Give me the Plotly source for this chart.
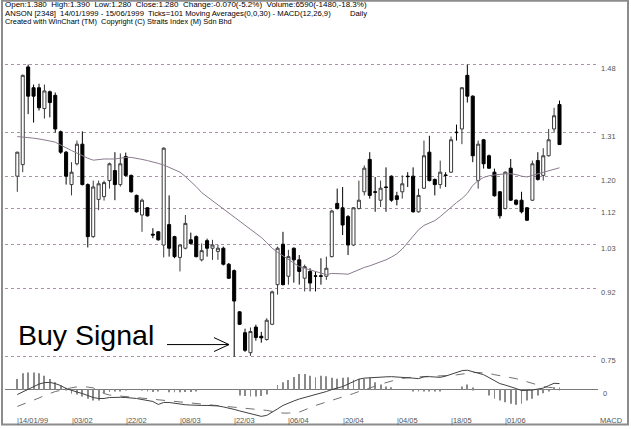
import plotly.graph_objects as go

# ---------------- data ----------------
idx = list(range(101))
opens = [1.201,1.230,1.474,1.422,1.422,1.370,1.412,1.403,1.312,1.261,
         1.180,1.232,1.281,1.180,1.050,1.143,1.150,1.190,1.215,1.180,
         1.250,1.203,1.153,1.104,1.122,1.056,1.062,1.029,1.080,1.050,
         0.998,1.021,1.042,1.050,0.992,1.040,1.021,1.013,1.021,0.981,
         0.965,0.862,0.810,0.760,0.824,0.801,0.793,0.831,0.930,1.031,
         0.951,1.021,0.992,0.946,0.963,0.952,0.952,0.951,1.000,1.133,
         1.122,1.100,1.029,1.120,1.162,1.243,1.162,1.141,1.174,1.201,
         1.152,1.162,1.201,1.201,1.112,1.171,1.261,1.193,1.180,1.204,
         1.211,1.311,1.319,1.453,1.401,1.190,1.292,1.252,1.211,1.162,
         1.120,1.221,1.141,1.141,1.122,1.141,1.240,1.203,1.252,1.319,
         1.380]
highs = [1.262,1.455,1.480,1.430,1.432,1.430,1.415,1.410,1.315,1.264,
         1.236,1.290,1.313,1.183,1.190,1.190,1.190,1.235,1.261,1.258,
         1.260,1.205,1.155,1.145,1.124,1.071,1.064,1.273,1.153,1.052,
         1.030,1.104,1.060,1.053,1.033,1.045,1.042,1.030,1.025,0.984,
         0.968,0.864,0.820,0.823,0.830,0.812,0.846,0.915,1.025,1.062,
         1.017,1.023,1.004,0.980,0.971,0.963,0.996,1.000,1.117,1.170,
         1.174,1.104,1.124,1.190,1.228,1.261,1.199,1.190,1.223,1.203,
         1.162,1.203,1.211,1.223,1.170,1.290,1.302,1.195,1.240,1.211,
         1.300,1.330,1.424,1.480,1.403,1.290,1.294,1.255,1.220,1.164,
         1.213,1.244,1.143,1.162,1.124,1.240,1.261,1.271,1.319,1.372,
         1.390]
lows = [1.162,1.211,1.356,1.335,1.365,1.345,1.348,1.310,1.257,1.180,
        1.153,1.228,1.178,1.023,1.047,1.116,1.140,1.170,1.141,1.175,
        1.200,1.160,1.110,1.062,1.100,1.046,1.040,0.998,1.000,0.996,
        0.963,1.018,1.030,0.998,0.988,1.000,0.992,0.992,0.978,0.944,
        0.750,0.829,0.762,0.752,0.790,0.785,0.790,0.829,0.905,0.928,
        0.930,0.935,0.930,0.913,0.913,0.913,0.930,0.942,0.998,1.118,
        1.054,1.004,1.027,1.118,1.153,1.145,1.112,1.124,1.112,1.137,
        1.128,1.145,1.174,1.110,1.110,1.169,1.188,1.153,1.170,1.174,
        1.209,1.290,1.281,1.385,1.236,1.170,1.220,1.219,1.150,1.095,
        1.118,1.139,1.128,1.108,1.089,1.139,1.190,1.190,1.250,1.310,
        1.280]
closes = [1.261,1.453,1.401,1.401,1.372,1.414,1.385,1.319,1.261,1.201,
          1.211,1.281,1.180,1.050,1.174,1.182,1.185,1.232,1.180,1.232,
          1.203,1.162,1.112,1.141,1.102,1.054,1.042,1.271,1.021,1.000,
          1.029,1.083,1.033,1.000,1.015,1.021,1.029,1.021,0.981,0.946,
          0.889,0.831,0.766,0.813,0.798,0.797,0.841,0.912,1.021,0.930,
          1.000,0.992,0.963,0.975,0.934,0.951,0.951,0.971,1.114,1.120,
          1.079,1.029,1.122,1.141,1.221,1.153,1.161,1.171,1.173,1.141,
          1.143,1.182,1.200,1.112,1.153,1.252,1.190,1.180,1.211,1.203,
          1.292,1.310,1.422,1.401,1.252,1.281,1.232,1.221,1.152,1.102,
          1.211,1.141,1.131,1.112,1.091,1.232,1.193,1.252,1.292,1.352,
          1.280]
ma30 = [1.300,1.299,1.298,1.296,1.294,1.292,1.289,1.286,1.280,1.272,
        1.265,1.258,1.252,1.246,1.241,1.243,1.244,1.244,1.244,1.246,
        1.248,1.248,1.246,1.243,1.240,1.237,1.233,1.229,1.223,1.217,
        1.211,1.200,1.188,1.175,1.160,1.150,1.139,1.128,1.119,1.110,
        1.100,1.090,1.079,1.069,1.058,1.048,1.035,1.021,1.011,1.002,
        0.993,0.983,0.975,0.971,0.967,0.963,0.959,0.955,0.958,0.958,
        0.957,0.956,0.962,0.967,0.973,0.977,0.982,0.986,0.992,0.999,
        1.007,1.019,1.035,1.051,1.067,1.078,1.084,1.090,1.100,1.112,
        1.124,1.135,1.145,1.158,1.178,1.190,1.198,1.202,1.204,1.206,
        1.207,1.207,1.205,1.201,1.199,1.203,1.207,1.210,1.214,1.219,
        1.222]
# MACD panel values (x 0.001)
macd_line = [-5,-2.5,0.5,3,5.5,7,7.2,6,4,1,
             -1,-2.5,-4,-6,-8,-9,-9,-8,-7.7,-7.8,
             -8,-8.3,-9,-10,-11,-12,-15,-13,-13,-14,
             -15,-15.3,-15.6,-16,-16,-16,-16,-16.5,-17.5,-18.5,
             -20,-21.5,-23,-24.5,-26,-27,-26,-23,-19.5,-16,
             -13.5,-11.5,-9.5,-8,-6.5,-5.5,-4,-2,0,1.5,
             3,5.5,8,10.5,11.5,12,12.3,12.5,12.8,13,
             12.8,12.5,12.3,11.5,11,12.8,13,12.5,12.3,13.5,
             15.5,17,19,19.5,18,16.5,15,12,9,6,
             4.5,3,1,-1,-1,-0.5,0.5,1.5,4,6.3,
             6]
signal_line = [-17,-15,-13,-11,-8.5,-6,-3.7,-2,-0.8,0.7,
               1.8,2.7,3,2.5,1.7,-1,-4,-5.5,-6,-6.3,
               -6.6,-7,-7.5,-8.2,-9,-9.7,-10.3,-10.8,-11.5,-12,
               -12.6,-13.2,-13.7,-14.1,-14.5,-15,-15.5,-16,-16.4,-16.8,
               -17.3,-18,-18.7,-19.3,-20,-20.5,-21,-22,-23,-23.7,
               -23.7,-23.3,-22.7,-20.5,-18,-16,-14.3,-12.7,-11,-9.4,
               -7.7,-6,-4,-2,0,2,3.5,5.2,7,8.7,
               10,11.2,12.2,12.6,12.8,13,13.1,13.2,13.3,13.8,
               14.3,14.8,15.6,16.4,17.1,17.2,16.8,16.2,15,14,
               13.3,12.5,11,9.5,7.8,6,4.3,3,2.2,1.7,
               1.5]
histogram = [10.7,16.3,17.3,17.3,16.3,14,10.7,7.3,4,1.7,
             -4.3,-5,-7,-9.3,-11,-11,-3.5,-2.5,-2,-1,
             -0.5,0,0,-0.5,-1,-2.5,-1,0,-2.7,-2.7,
             -2.7,-2.5,-2.5,-1,0,0,0,0,0,0,
             0,-6,-6.5,-7,-7,-6.5,-5,0,4.7,7.3,
             9.7,12.7,15.7,15.7,14,12.3,14,13.3,12,11,
             12,12.5,10,10.7,11,12,7.3,5,3,2.3,
             0,0,0,-2,-2,-1.5,-2,-2,-1.5,0,
             0,0,3,5,2,0,0,-6,-9.3,-11,
             -12.7,-14.3,-15.3,-14.3,-11,-9.3,-6,-3.7,-1,2.3,
             2]
date_ticks = [0,10,20,30,40,50,60,70,80,90]
date_labels = ["|14/01/99","|03/02","|22/02","|08/03","|22/03",
               "|06/04","|20/04","|04/05","|18/05","|01/06"]
price_ticks = [1.48,1.31,1.20,1.12,1.03,0.92,0.75]
price_labels = ["1.48","1.31","1.20","1.12","1.03","0.92","0.75"]

header = [
    "Open:1.380\u00a0 High:1.390\u00a0 Low:1.280\u00a0 Close:1.280\u00a0 Change:-0.070(-5.2%)\u00a0 Volume:6590(-1480,-18.3%)",
    "ANSON [2348]\u00a0 14/01/1999 - 15/06/1999\u00a0 Ticks=101 Moving Averages(0,0,30) - MACD(12,26,9)\u00a0\u00a0\u00a0\u00a0\u00a0\u00a0\u00a0\u00a0 Daily",
    "Created with WinChart (TM)\u00a0 Copyright (C) Straits Index (M) Sdn Bhd",
]
header_sizes = [8, 7.7, 7.4]

# ---------------- figure ----------------
W, H = 631, 429
ML, MR = 5, 33
PW = W - ML - MR
def px(x):
    return (x - ML) / PW
def py(y):
    return 1 - y / H

fig = go.Figure()
fig.add_trace(go.Candlestick(
    x=idx, open=opens, high=highs, low=lows, close=closes,
    increasing=dict(fillcolor="white", line=dict(color="#3a3a3a", width=1)),
    decreasing=dict(fillcolor="black", line=dict(color="black", width=1)),
    whiskerwidth=0, xaxis="x", yaxis="y", showlegend=False, hoverinfo="skip"))
fig.add_trace(go.Scatter(x=idx, y=ma30, mode="lines",
                         line=dict(color="#8a7a8e", width=1),
                         xaxis="x", yaxis="y", showlegend=False))
fig.add_trace(go.Bar(x=idx, y=histogram, width=0.16,
                     marker=dict(color="#8a8a8a", line=dict(width=0)),
                     xaxis="x", yaxis="y2", showlegend=False))
fig.add_trace(go.Scatter(x=idx, y=signal_line, mode="lines",
                         line=dict(color="#707070", width=1, dash="dash"),
                         xaxis="x", yaxis="y2", showlegend=False))
fig.add_trace(go.Scatter(x=idx, y=macd_line, mode="lines",
                         line=dict(color="#404040", width=1),
                         xaxis="x", yaxis="y2", showlegend=False))

tick_font = dict(family="Liberation Sans, Arial, sans-serif", size=7.5, color="#555555")

fig.update_layout(
    width=W, height=H,
    margin=dict(l=ML, r=MR, t=0, b=0),
    paper_bgcolor="white", plot_bgcolor="white",
    boxgap=0.2,
    xaxis=dict(range=[-2.27, 107.1], anchor="y2", rangeslider=dict(visible=False),
               showgrid=False, zeroline=False, showline=False, ticks="",
               showticklabels=False),
    yaxis=dict(domain=[py(365), py(35)], range=[0.7356, 1.5544], side="right",
               anchor="x", tickvals=price_ticks, ticktext=price_labels,
               showgrid=True, gridcolor="#a892aa", griddash="dot", gridwidth=1,
               zeroline=False, showline=False, ticks="", tickfont=tick_font,
               ticklabelshift=4, ticklabelstandoff=2),
    yaxis2=dict(domain=[0, py(366)], range=[-36.7, 26.3], side="right",
                anchor="x", tickvals=[0], ticktext=["0"], showgrid=False,
                zeroline=True, zerolinecolor="#7a7a7a", zerolinewidth=1,
                showline=False, ticks="", tickfont=tick_font,
                ticklabelshift=4, ticklabelstandoff=4),
)

# date labels placed on the shared x scale
for tv, tl in zip(date_ticks, date_labels):
    fig.add_annotation(text=tl, xref="x", yref="paper", x=tv, y=py(423.5),
                       xanchor="left", yanchor="middle", showarrow=False,
                       font=tick_font, xshift=-2)

for k, t in enumerate(header):
    fig.add_annotation(text=t, xref="paper", yref="paper", x=px(3), y=py(5 + 8.2 * k),
                       xanchor="left", yanchor="middle", showarrow=False,
                       font=dict(family="Liberation Sans, Arial, sans-serif",
                                 size=header_sizes[k], color="black"))

fig.add_annotation(text="MACD", xref="paper", yref="paper", x=px(598), y=py(423.5),
                   xanchor="left", yanchor="middle", showarrow=False, font=tick_font)
fig.add_annotation(text="Buy Signal", xref="paper", yref="paper", x=px(16), y=py(337),
                   xanchor="left", yanchor="middle", showarrow=False,
                   font=dict(family="Liberation Sans, Arial, sans-serif", size=28.5, color="black"))

arrow = dict(color="black", width=1)
fig.add_shape(type="line", xref="paper", yref="paper", x0=px(167), x1=px(229),
              y0=py(347), y1=py(347), line=arrow)
fig.add_shape(type="line", xref="paper", yref="paper", x0=px(214), x1=px(229),
              y0=py(340), y1=py(347), line=arrow)
fig.add_shape(type="line", xref="paper", yref="paper", x0=px(214), x1=px(229),
              y0=py(354), y1=py(347), line=arrow)
# outer frame
fig.add_shape(type="rect", xref="paper", yref="paper", x0=px(2), x1=px(628),
              y0=py(427.5), y1=py(0.8), line=dict(color="#8c8c8c", width=2))

fig.write_html("out.html", config={"displayModeBar": False},
               post_script="document.body.style.margin='0';document.body.style.padding='0';")
